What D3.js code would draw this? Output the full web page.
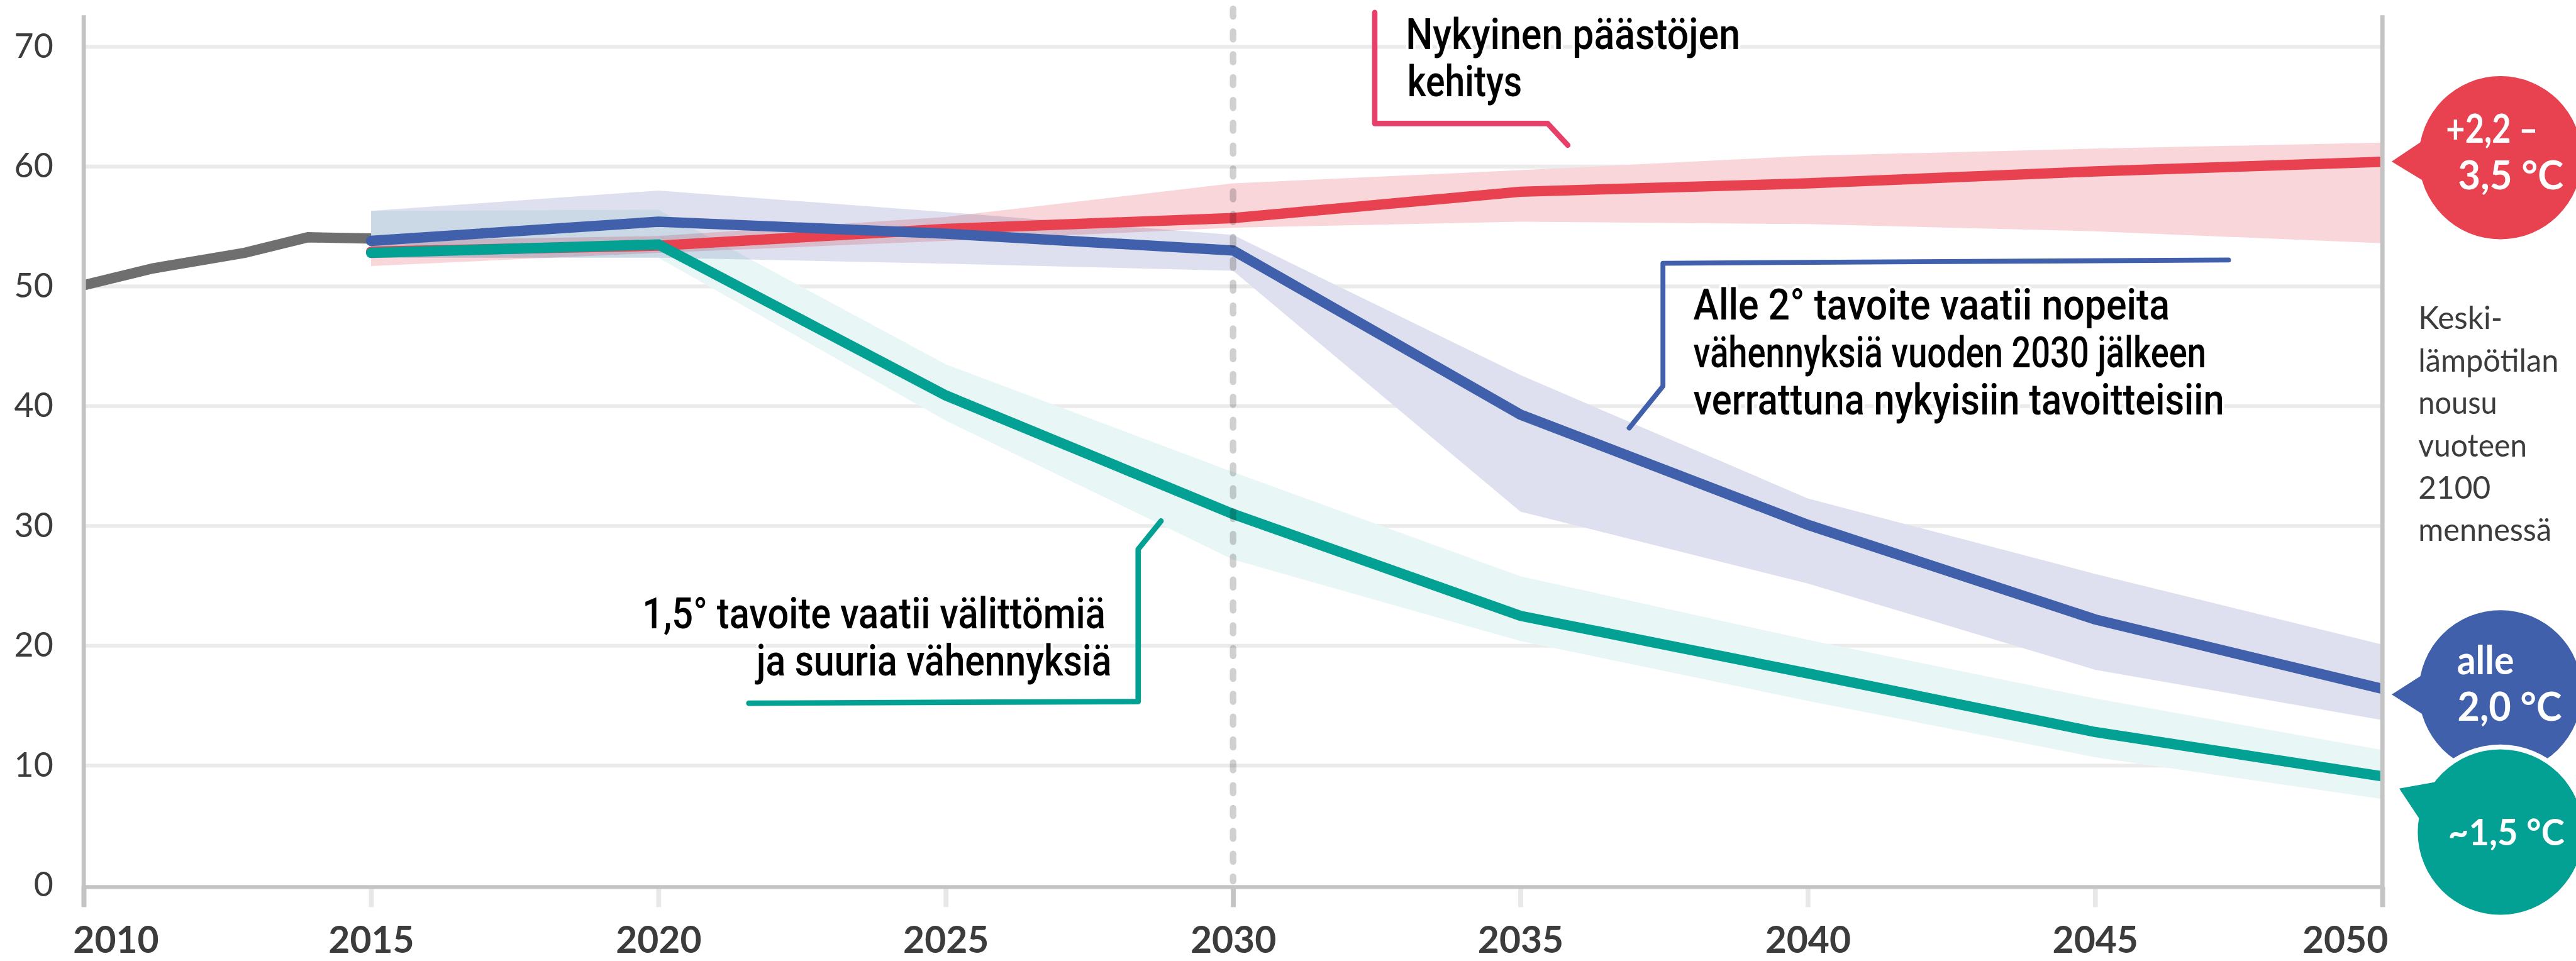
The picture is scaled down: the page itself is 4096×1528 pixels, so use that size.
<!DOCTYPE html>
<html>
<head>
<meta charset="utf-8">
<script src="https://cdn.jsdelivr.net/npm/d3@7"></script>
<style>
  body { margin: 0; background: #fff; }
  svg { display: block; }
  .band, .dash { mix-blend-mode: multiply; }
</style>
</head>
<body>
<div id="chart"></div>
<script>
// emissions per year
var histYears  = [2010, 2011.2, 2012.8, 2013.9, 2015];
var histValues = [50.1, 51.5, 52.8, 54.1, 54.0];

var scenYears  = [2015, 2020, 2025, 2030, 2035, 2040, 2045, 2050];
var currentMid = [52.9, 53.4, 54.8, 55.7, 57.9, 58.6, 59.6, 60.4];
var currentHi  = [53.8, 54.2, 55.8, 58.6, 59.7, 60.9, 61.5, 62.0];
var currentLo  = [51.7, 52.8, 53.8, 54.9, 55.4, 55.2, 54.6, 53.6];
var below2Mid  = [53.8, 55.4, 54.4, 53.0, 39.3, 30.1, 22.2, 16.4];
var below2Hi   = [56.3, 58.0, 56.2, 54.3, 42.6, 32.3, 26.0, 20.1];
var below2Lo   = [52.4, 52.4, 51.9, 51.3, 31.2, 25.2, 18.0, 13.8];
var c15Mid     = [52.8, 53.5, 40.9, 31.0, 22.5, 17.7, 12.8, 9.1];
var c15Hi      = [56.3, 56.4, 43.5, 34.5, 25.8, 20.5, 15.6, 11.3];
var c15Lo      = [52.4, 52.4, 38.8, 27.2, 20.4, 15.4, 10.7, 7.2];

var xTicks = [2010, 2015, 2020, 2025, 2030, 2035, 2040, 2045, 2050];
var yTicks = [0, 10, 20, 30, 40, 50, 60, 70];

var noteCurrent = ["Nykyinen päästöjen", "kehitys"];
var noteBelow2  = ["Alle 2° tavoite vaatii nopeita", "vähennyksiä vuoden 2030 jälkeen", "verrattuna nykyisiin tavoitteisiin"];
var note15      = ["1,5° tavoite vaatii välittömiä", "ja suuria vähennyksiä"];
var sideNote    = ["Keski-", "lämpötilan", "nousu", "vuoteen", "2100", "mennessä"];
var bubbleRed   = ["+2,2 –", "3,5 °C"];
var bubbleBlue  = ["alle", "2,0 °C"];
var bubbleGreen = ["~1,5 °C"];

// colours
var red = "#e8414f", redBand = "#f8d6da";
var blue = "#4160ac", blueBand = "#dfe0ef";
var green = "#02a193", greenBand = "#e9f6f6";
var grey = "#6f6f6f";
var axisCol = "#c4c4c4", gridCol = "#ebebeb", textCol = "#3c3c3c";

// drawn in the reference's 4737x1767 space, shown at 4096x1528
var W = 4737, H = 1767;
var svg = d3.select('#chart').append('svg')
    .attr('width', 4096).attr('height', 1528)
    .attr('viewBox', '0 0 ' + W + ' ' + H);

var x = d3.scaleLinear().domain([2010, 2050]).range([154, 4381]);
var y = d3.scaleLinear().domain([0, 70]).range([1628, 86]);

svg.append('defs').append('clipPath').attr('id', 'plotClip')
  .append('rect').attr('x', 0).attr('y', 0).attr('width', x(2050)).attr('height', H);

// gridlines
svg.append('g').selectAll('line')
    .data(yTicks.filter(function(d){ return d > 0; }))
  .enter().append('line')
    .attr('x1', x(2010)).attr('x2', x(2050))
    .attr('y1', function(d){ return y(d); }).attr('y2', function(d){ return y(d); })
    .attr('stroke', gridCol).attr('stroke-width', 7);

// uncertainty bands
function band(hi, lo) {
  return d3.area()
    .x(function(d, i){ return x(scenYears[i]); })
    .y0(function(d, i){ return y(lo[i]); })
    .y1(function(d, i){ return y(hi[i]); })(scenYears);
}
var bands = svg.append('g').attr('clip-path', 'url(#plotClip)');
bands.append('path').attr('class', 'band').attr('d', band(currentHi, currentLo)).attr('fill', redBand);
bands.append('path').attr('class', 'band').attr('d', band(below2Hi, below2Lo)).attr('fill', blueBand);
bands.append('path').attr('class', 'band').attr('d', band(c15Hi, c15Lo)).attr('fill', greenBand);

// lines
var lines = svg.append('g').attr('clip-path', 'url(#plotClip)')
    .attr('fill', 'none').attr('stroke-width', 19).attr('stroke-linejoin', 'miter');

var histLine = d3.line()
    .x(function(d, i){ return x(histYears[i]); })
    .y(function(d){ return y(d); });
lines.append('path').attr('d', histLine(histValues)).attr('stroke', grey);

var scenLine = d3.line()
    .x(function(d, i){ return x(scenYears[i]); })
    .y(function(d){ return y(d); });
lines.append('path').attr('d', scenLine(currentMid)).attr('stroke', red).attr('stroke-linecap', 'round');
lines.append('path').attr('d', scenLine(below2Mid)).attr('stroke', blue).attr('stroke-linecap', 'round');
lines.append('path').attr('d', scenLine(c15Mid)).attr('stroke', green).attr('stroke-linecap', 'round');

// x axis
var xAxis = svg.append('g')
    .attr('transform', 'translate(0,' + (y(0) + 3) + ')')
    .call(d3.axisBottom(x).tickValues(xTicks).tickSize(37).tickPadding(36).tickFormat(d3.format('d')));
xAxis.select('.domain').remove();
xAxis.selectAll('.tick line')
    .attr('stroke', function(d){ return (d == 2030 || d == 2010 || d == 2050) ? axisCol : '#e8e8e8'; })
    .attr('stroke-width', 9);
xAxis.selectAll('.tick text')
    .attr('fill', textCol)
    .style('font-family', 'Lato, sans-serif').style('font-weight', 'bold').style('font-size', '68px')
    .attr('text-anchor', function(d){ return d == 2010 ? 'start' : (d == 2050 ? 'end' : 'middle'); })
    .attr('x', function(d){ return d == 2010 ? -20 : (d == 2050 ? 10 : 0); });

// baseline and side axes
svg.append('line').attr('x1', x(2010)).attr('x2', x(2050))
    .attr('y1', y(0) + 3).attr('y2', y(0) + 3)
    .attr('stroke', axisCol).attr('stroke-width', 7);
[2010, 2050].forEach(function(yr){
  svg.append('line').attr('x1', x(yr)).attr('x2', x(yr))
      .attr('y1', 28).attr('y2', 1665)
      .attr('stroke', axisCol).attr('stroke-width', 8);
});

// y axis labels
var yAxis = svg.append('g')
    .attr('transform', 'translate(' + x(2010) + ',0)')
    .call(d3.axisLeft(y).tickValues(yTicks).tickSize(0).tickPadding(56));
yAxis.select('.domain').remove();
yAxis.selectAll('.tick text')
    .attr('fill', textCol)
    .style('font-family', 'Lato, sans-serif').style('font-size', '62px');

// 2030 marker
svg.append('line').attr('class', 'dash')
    .attr('x1', x(2030)).attr('x2', x(2030))
    .attr('y1', 16).attr('y2', y(0) - 8)
    .attr('stroke', '#d0d0d0').attr('stroke-width', 12)
    .attr('stroke-linecap', 'round').attr('stroke-dasharray', '14 28');

// annotation leaders
var leaders = svg.append('g').attr('fill', 'none').attr('stroke-linecap', 'round').attr('stroke-linejoin', 'round');
leaders.append('path').attr('d', 'M2528,23 V227 H2846 L2883,267').attr('stroke', '#e6406a').attr('stroke-width', 10);
leaders.append('path').attr('d', 'M4098,478 L3058,484 V710 L2996,787').attr('stroke', blue).attr('stroke-width', 9);
leaders.append('path').attr('d', 'M1377,1293 L2093,1290 V1010 L2135,958').attr('stroke', green).attr('stroke-width', 10);

// annotation texts
function note(lines, pos) {
  var g = svg.append('g');
  lines.forEach(function(t, i){
    g.append('text')
      .attr('x', pos[i][0]).attr('y', pos[i][1])
      .attr('textLength', pos[i][2]).attr('lengthAdjust', 'spacingAndGlyphs')
      .style('font-family', 'Roboto, sans-serif').style('font-weight', 500).style('font-size', '80px')
      .attr('fill', '#000')
      .attr('stroke', '#fff').attr('stroke-width', 10).attr('stroke-linejoin', 'round')
      .attr('paint-order', 'stroke')
      .text(t);
  });
}
note(noteCurrent, [[2585, 90, 615], [2588, 177, 211]]);
note(noteBelow2, [[3114, 588, 876], [3114, 675, 943], [3114, 762, 976]]);
note(note15, [[1181, 1155, 852], [1391, 1242, 653]]);

// side text
var side = svg.append('g');
sideNote.forEach(function(t, i){
  var widths = [155, 258, 145, 200, 133, 245];
  side.append('text')
    .attr('x', 4447).attr('y', 605 + i * 78)
    .attr('textLength', widths[i]).attr('lengthAdjust', 'spacingAndGlyphs')
    .style('font-family', 'Lato, sans-serif').style('font-size', '58px')
    .attr('fill', textCol)
    .text(t);
});

// temperature bubbles
function bubble(col, cx, cy, r, tri, labels, pos, ring, size) {
  var g = svg.append('g');
  if (ring) g.append('circle').attr('cx', cx).attr('cy', cy).attr('r', r + 9).attr('fill', '#fff');
  g.append('circle').attr('cx', cx).attr('cy', cy).attr('r', r).attr('fill', col);
  g.append('path').attr('d', 'M' + tri.join('L') + 'Z').attr('fill', col);
  labels.forEach(function(t, i){
    g.append('text')
      .attr('x', pos[i][0]).attr('y', pos[i][1])
      .attr('textLength', pos[i][2]).attr('lengthAdjust', 'spacingAndGlyphs')
      .style('font-family', 'Lato, sans-serif').style('font-weight', 'bold').style('font-size', size + 'px')
      .attr('fill', '#fff')
      .text(t);
  });
}
bubble(red, 4598, 290, 150, [[4398, 297], [4456, 258], [4462, 336]], bubbleRed,
       [[4498, 263, 169], [4520, 348, 194]], false, 72);
bubble(blue, 4598, 1272, 150, [[4398, 1277], [4456, 1240], [4456, 1314]], bubbleBlue,
       [[4518, 1240, 105], [4519, 1325, 192]], false, 72);
bubble(green, 4598, 1530, 152, [[4412, 1450], [4478, 1438], [4452, 1510]], bubbleGreen,
       [[4502, 1554, 214]], true, 66);
</script>
</body>
</html>
